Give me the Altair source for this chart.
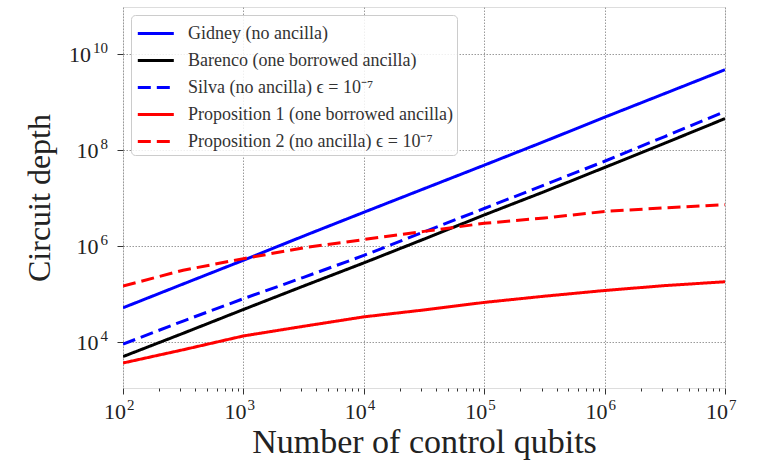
import altair as alt
import pandas as pd

# ---- data (log-log plot) ----
n_qubits = [100, 316, 1000, 3162, 10000, 31623, 100000, 316228, 1000000, 3162278, 10000000]
gidney = [5.1e4, 1.6e5, 5.0e5, 1.6e6, 5.0e6, 1.55e7, 4.8e7, 1.5e8, 4.8e8, 1.5e9, 4.7e9]
barenco = [4.9e3, 1.5e4, 4.7e4, 1.45e5, 4.4e5, 1.38e6, 4.4e6, 1.35e7, 4.3e7, 1.38e8, 4.5e8]
silva = [8.9e3, 2.7e4, 7.9e4, 2.2e5, 6.3e5, 1.95e6, 6.0e6, 1.86e7, 5.8e7, 1.9e8, 6.3e8]
prop1 = [3.6e3, 6.8e3, 1.32e4, 2.1e4, 3.3e4, 4.6e4, 6.6e4, 8.9e4, 1.17e5, 1.48e5, 1.78e5]
prop2 = [1.45e5, 3.1e5, 5.4e5, 9.1e5, 1.35e6, 2.0e6, 2.95e6, 3.8e6, 5.2e6, 6.2e6, 7.2e6]

series_names = [
    "Gidney (no ancilla)",
    "Barenco (one borrowed ancilla)",
    "Silva (no ancilla) ϵ = 10⁻⁷",
    "Proposition 1 (one borrowed ancilla)",
    "Proposition 2 (no ancilla) ϵ = 10⁻⁷",
]
series_values = [gidney, barenco, silva, prop1, prop2]
series_colors = ["#0000ff", "#000000", "#0000ff", "#ff0000", "#ff0000"]
series_dashes = [[1, 0], [1, 0], [13, 6], [1, 0], [13, 6]]

# tick positions and their exponent labels
x_major = [100, 1000, 10000, 100000, 1000000, 10000000]
x_major_exp = ["2", "3", "4", "5", "6", "7"]
x_minor = [m * 10 ** k for k in range(2, 7) for m in range(2, 10)]
y_major = [10000, 1000000, 100000000, 10000000000]
y_major_exp = ["4", "6", "8", "10"]

rows = []
for name, vals in zip(series_names, series_values):
    for n, v in zip(n_qubits, vals):
        rows.append({"n": n, "depth": v, "series": name})
df = pd.DataFrame(rows)
xt = pd.DataFrame({"v": x_major, "base": ["10"] * len(x_major), "exp": x_major_exp})
yt = pd.DataFrame({"v": y_major, "base": ["10"] * len(y_major), "exp": y_major_exp})

is_major = "abs(log(datum.value)/LN10 - round(log(datum.value)/LN10)) < 1e-6"
FONT = "Liberation Serif"
TXT = "#222222"
W, H = 602, 381

xscale = alt.Scale(type="log", domain=[100, 10000000], nice=False)
yscale = alt.Scale(type="log", domain=[1084, 9.55e10], nice=False)

x_axis = alt.Axis(
    values=x_major + x_minor,
    labels=False,
    title="Number of control qubits", titleFont=FONT, titleFontSize=34,
    titleFontWeight="normal", titleColor=TXT,
    titleY=64, titleBaseline="alphabetic",
    tickSize={"condition": {"test": is_major, "value": 6}, "value": 3},
    tickColor="#333",
    grid=True,
    gridOpacity={"condition": {"test": is_major, "value": 1}, "value": 0},
    gridDash=[1.5, 1.5], gridColor="#9a9a9a", gridWidth=1,
    domain=False,
)
y_axis = alt.Axis(
    values=y_major,
    labels=False,
    title="Circuit depth", titleFont=FONT, titleFontSize=32,
    titleFontWeight="normal", titleColor=TXT,
    titleX=-74, titleBaseline="alphabetic",
    tickSize=6, tickColor="#333",
    grid=True, gridDash=[1.5, 1.5], gridColor="#9a9a9a", gridWidth=1,
    domain=False,
)

legend = alt.Legend(
    title=None, orient="none", legendX=8, legendY=8,
    symbolType="M-0.9,0H1.87", symbolSize=676, symbolStrokeWidth=3,
    labelFont=FONT, labelFontSize=18, labelColor="#333", labelLimit=400,
    labelOffset=24, rowPadding=3, padding=4,
    fillColor="rgba(255,255,255,0.85)", strokeColor="#cccccc", cornerRadius=4,
)

lines = alt.Chart(df).mark_line(strokeWidth=3, clip=True).encode(
    x=alt.X("n:Q", scale=xscale, axis=x_axis),
    y=alt.Y("depth:Q", scale=yscale, axis=y_axis),
    color=alt.Color("series:N", sort=series_names,
                    scale=alt.Scale(domain=series_names, range=series_colors), legend=legend),
    strokeDash=alt.StrokeDash("series:N", sort=series_names,
                              scale=alt.Scale(domain=series_names, range=series_dashes), legend=legend),
)

# x tick labels: "10" with a raised exponent
x_base = alt.Chart(xt).mark_text(font=FONT, fontSize=22, color=TXT, align="right",
                                 baseline="alphabetic", dx=3, dy=31).encode(
    x=alt.X("v:Q", scale=xscale, axis=x_axis), y=alt.value(H), text="base:N")
x_exp = alt.Chart(xt).mark_text(font=FONT, fontSize=15, color=TXT, align="left",
                                baseline="alphabetic", dx=4, dy=22).encode(
    x=alt.X("v:Q", scale=xscale, axis=x_axis), y=alt.value(H), text="exp:N")

# y tick labels: exponent right-aligned, "10" placed to its left
y_exp = alt.Chart(yt).mark_text(font=FONT, fontSize=15, color=TXT, align="right",
                                baseline="alphabetic", dy=-1).encode(
    y=alt.Y("v:Q", scale=yscale, axis=y_axis), x=alt.value(-15), text="exp:N")
y_base = alt.Chart(yt).transform_calculate(
    bx="-17 - 7.5 * length(datum.exp)"
).mark_text(font=FONT, fontSize=22, color=TXT, align="right",
            baseline="alphabetic", dy=8).encode(
    y=alt.Y("v:Q", scale=yscale, axis=y_axis), x=alt.X("bx:Q", scale=None), text="base:N")

chart = alt.layer(lines, x_base, x_exp, y_base, y_exp).properties(
    width=W, height=H,
    autosize=alt.AutoSizeParams(type="none"),
    padding={"left": 123, "top": 7, "right": 36, "bottom": 75},
).configure_view(
    stroke="#333333", strokeWidth=1.2,
).configure(background="white")

chart.save("out.html", embed_options={"renderer": "svg", "actions": False})
